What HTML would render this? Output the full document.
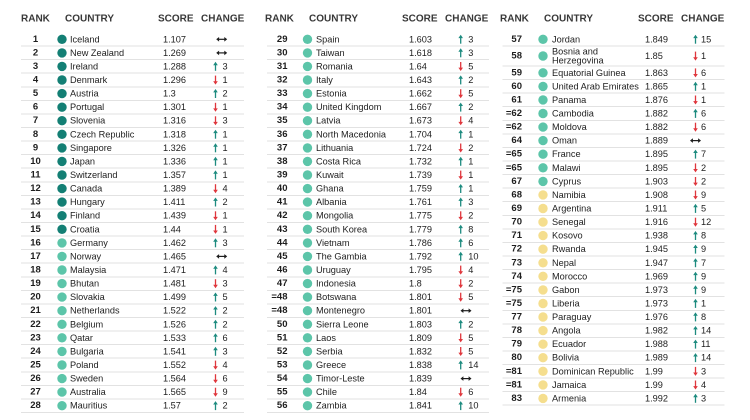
<!DOCTYPE html>
<html><head><meta charset="utf-8">
<style>
html,body{margin:0;padding:0;background:#fff;}
svg{display:block;}
text{font-family:"Liberation Sans",Arial,sans-serif;dominant-baseline:central;fill:#1e1e1e;}
.h{font-size:10px;font-weight:bold;fill:#383838;}
.r{font-size:9.5px;font-weight:bold;text-anchor:middle;}
.re{font-size:9.5px;font-weight:bold;text-anchor:end;}
.c{font-size:9.2px;}
.s{font-size:9.2px;}
.l{stroke:#e2e2e2;stroke-width:1;shape-rendering:crispEdges;}
.d1{fill:#137f74;}
.d2{fill:#5cc5a9;}
.d3{fill:#f5de8e;}
</style></head><body>
<svg width="750" height="420" viewBox="0 0 750 420" xmlns="http://www.w3.org/2000/svg">
<defs>
<g id="up"><line x1="0" y1="4.4" x2="0" y2="-1.8" stroke="#1d8b7f" stroke-width="1.3"/><path d="M-2.3,-1.2 L2.3,-1.2 L0,-4.6Z" fill="#1d8b7f"/></g>
<g id="dn"><line x1="0" y1="-4.4" x2="0" y2="1.8" stroke="#df363c" stroke-width="1.3"/><path d="M-2.3,1.2 L2.3,1.2 L0,4.6Z" fill="#df363c"/></g>
<g id="lr"><line x1="-3.5" x2="3.5" y1="0" y2="0" stroke="#1e1e1e" stroke-width="1.2"/><path d="M-5.5,0 L-2.6,-2.3 L-2.6,2.3Z M5.5,0 L2.6,-2.3 L2.6,2.3Z" fill="#1e1e1e"/></g>
</defs>

<!-- headers -->
<text class="h" x="21" y="19">RANK</text><text class="h" x="65" y="19">COUNTRY</text><text class="h" x="158" y="19">SCORE</text><text class="h" x="201" y="19">CHANGE</text>
<text class="h" x="265" y="19">RANK</text><text class="h" x="309" y="19">COUNTRY</text><text class="h" x="402" y="19">SCORE</text><text class="h" x="445" y="19">CHANGE</text>
<text class="h" x="500" y="19">RANK</text><text class="h" x="544" y="19">COUNTRY</text><text class="h" x="638" y="19">SCORE</text><text class="h" x="681" y="19">CHANGE</text>

<!-- column 1 -->
<g>
<g transform="translate(0,39.3)"><text class="r" x="35.5">1</text><circle class="d1" cx="62" r="4.7"/><text class="c" x="70">Iceland</text><text class="s" x="163">1.107</text><use href="#lr" x="221.7"/><line class="l" x1="21" x2="244" y1="6.8" y2="6.8"/></g>
<g transform="translate(0,52.9)"><text class="r" x="35.5">2</text><circle class="d1" cx="62" r="4.7"/><text class="c" x="70">New Zealand</text><text class="s" x="163">1.269</text><use href="#lr" x="221.7"/><line class="l" x1="21" x2="244" y1="6.8" y2="6.8"/></g>
<g transform="translate(0,66.4)"><text class="r" x="35.5">3</text><circle class="d1" cx="62" r="4.7"/><text class="c" x="70">Ireland</text><text class="s" x="163">1.288</text><use href="#up" x="215.5"/><text class="c" x="222.5">3</text><line class="l" x1="21" x2="244" y1="6.8" y2="6.8"/></g>
<g transform="translate(0,80)"><text class="r" x="35.5">4</text><circle class="d1" cx="62" r="4.7"/><text class="c" x="70">Denmark</text><text class="s" x="163">1.296</text><use href="#dn" x="215.5"/><text class="c" x="222.5">1</text><line class="l" x1="21" x2="244" y1="6.8" y2="6.8"/></g>
<g transform="translate(0,93.6)"><text class="r" x="35.5">5</text><circle class="d1" cx="62" r="4.7"/><text class="c" x="70">Austria</text><text class="s" x="163">1.3</text><use href="#up" x="215.5"/><text class="c" x="222.5">2</text><line class="l" x1="21" x2="244" y1="6.8" y2="6.8"/></g>
<g transform="translate(0,107.2)"><text class="r" x="35.5">6</text><circle class="d1" cx="62" r="4.7"/><text class="c" x="70">Portugal</text><text class="s" x="163">1.301</text><use href="#dn" x="215.5"/><text class="c" x="222.5">1</text><line class="l" x1="21" x2="244" y1="6.8" y2="6.8"/></g>
<g transform="translate(0,120.7)"><text class="r" x="35.5">7</text><circle class="d1" cx="62" r="4.7"/><text class="c" x="70">Slovenia</text><text class="s" x="163">1.316</text><use href="#dn" x="215.5"/><text class="c" x="222.5">3</text><line class="l" x1="21" x2="244" y1="6.8" y2="6.8"/></g>
<g transform="translate(0,134.3)"><text class="r" x="35.5">8</text><circle class="d1" cx="62" r="4.7"/><text class="c" x="70">Czech Republic</text><text class="s" x="163">1.318</text><use href="#up" x="215.5"/><text class="c" x="222.5">1</text><line class="l" x1="21" x2="244" y1="6.8" y2="6.8"/></g>
<g transform="translate(0,147.9)"><text class="r" x="35.5">9</text><circle class="d1" cx="62" r="4.7"/><text class="c" x="70">Singapore</text><text class="s" x="163">1.326</text><use href="#up" x="215.5"/><text class="c" x="222.5">1</text><line class="l" x1="21" x2="244" y1="6.8" y2="6.8"/></g>
<g transform="translate(0,161.4)"><text class="r" x="35.5">10</text><circle class="d1" cx="62" r="4.7"/><text class="c" x="70">Japan</text><text class="s" x="163">1.336</text><use href="#up" x="215.5"/><text class="c" x="222.5">1</text><line class="l" x1="21" x2="244" y1="6.8" y2="6.8"/></g>
<g transform="translate(0,175)"><text class="r" x="35.5">11</text><circle class="d1" cx="62" r="4.7"/><text class="c" x="70">Switzerland</text><text class="s" x="163">1.357</text><use href="#up" x="215.5"/><text class="c" x="222.5">1</text><line class="l" x1="21" x2="244" y1="6.8" y2="6.8"/></g>
<g transform="translate(0,188.6)"><text class="r" x="35.5">12</text><circle class="d1" cx="62" r="4.7"/><text class="c" x="70">Canada</text><text class="s" x="163">1.389</text><use href="#dn" x="215.5"/><text class="c" x="222.5">4</text><line class="l" x1="21" x2="244" y1="6.8" y2="6.8"/></g>
<g transform="translate(0,202.1)"><text class="r" x="35.5">13</text><circle class="d1" cx="62" r="4.7"/><text class="c" x="70">Hungary</text><text class="s" x="163">1.411</text><use href="#up" x="215.5"/><text class="c" x="222.5">2</text><line class="l" x1="21" x2="244" y1="6.8" y2="6.8"/></g>
<g transform="translate(0,215.7)"><text class="r" x="35.5">14</text><circle class="d1" cx="62" r="4.7"/><text class="c" x="70">Finland</text><text class="s" x="163">1.439</text><use href="#dn" x="215.5"/><text class="c" x="222.5">1</text><line class="l" x1="21" x2="244" y1="6.8" y2="6.8"/></g>
<g transform="translate(0,229.3)"><text class="r" x="35.5">15</text><circle class="d1" cx="62" r="4.7"/><text class="c" x="70">Croatia</text><text class="s" x="163">1.44</text><use href="#dn" x="215.5"/><text class="c" x="222.5">1</text><line class="l" x1="21" x2="244" y1="6.8" y2="6.8"/></g>
<g transform="translate(0,242.9)"><text class="r" x="35.5">16</text><circle class="d2" cx="62" r="4.7"/><text class="c" x="70">Germany</text><text class="s" x="163">1.462</text><use href="#up" x="215.5"/><text class="c" x="222.5">3</text><line class="l" x1="21" x2="244" y1="6.8" y2="6.8"/></g>
<g transform="translate(0,256.4)"><text class="r" x="35.5">17</text><circle class="d2" cx="62" r="4.7"/><text class="c" x="70">Norway</text><text class="s" x="163">1.465</text><use href="#lr" x="221.7"/><line class="l" x1="21" x2="244" y1="6.8" y2="6.8"/></g>
<g transform="translate(0,270)"><text class="r" x="35.5">18</text><circle class="d2" cx="62" r="4.7"/><text class="c" x="70">Malaysia</text><text class="s" x="163">1.471</text><use href="#up" x="215.5"/><text class="c" x="222.5">4</text><line class="l" x1="21" x2="244" y1="6.8" y2="6.8"/></g>
<g transform="translate(0,283.6)"><text class="r" x="35.5">19</text><circle class="d2" cx="62" r="4.7"/><text class="c" x="70">Bhutan</text><text class="s" x="163">1.481</text><use href="#dn" x="215.5"/><text class="c" x="222.5">3</text><line class="l" x1="21" x2="244" y1="6.8" y2="6.8"/></g>
<g transform="translate(0,297.1)"><text class="r" x="35.5">20</text><circle class="d2" cx="62" r="4.7"/><text class="c" x="70">Slovakia</text><text class="s" x="163">1.499</text><use href="#up" x="215.5"/><text class="c" x="222.5">5</text><line class="l" x1="21" x2="244" y1="6.8" y2="6.8"/></g>
<g transform="translate(0,310.7)"><text class="r" x="35.5">21</text><circle class="d2" cx="62" r="4.7"/><text class="c" x="70">Netherlands</text><text class="s" x="163">1.522</text><use href="#up" x="215.5"/><text class="c" x="222.5">2</text><line class="l" x1="21" x2="244" y1="6.8" y2="6.8"/></g>
<g transform="translate(0,324.3)"><text class="r" x="35.5">22</text><circle class="d2" cx="62" r="4.7"/><text class="c" x="70">Belgium</text><text class="s" x="163">1.526</text><use href="#up" x="215.5"/><text class="c" x="222.5">2</text><line class="l" x1="21" x2="244" y1="6.8" y2="6.8"/></g>
<g transform="translate(0,337.8)"><text class="r" x="35.5">23</text><circle class="d2" cx="62" r="4.7"/><text class="c" x="70">Qatar</text><text class="s" x="163">1.533</text><use href="#up" x="215.5"/><text class="c" x="222.5">6</text><line class="l" x1="21" x2="244" y1="6.8" y2="6.8"/></g>
<g transform="translate(0,351.4)"><text class="r" x="35.5">24</text><circle class="d2" cx="62" r="4.7"/><text class="c" x="70">Bulgaria</text><text class="s" x="163">1.541</text><use href="#up" x="215.5"/><text class="c" x="222.5">3</text><line class="l" x1="21" x2="244" y1="6.8" y2="6.8"/></g>
<g transform="translate(0,365)"><text class="r" x="35.5">25</text><circle class="d2" cx="62" r="4.7"/><text class="c" x="70">Poland</text><text class="s" x="163">1.552</text><use href="#dn" x="215.5"/><text class="c" x="222.5">4</text><line class="l" x1="21" x2="244" y1="6.8" y2="6.8"/></g>
<g transform="translate(0,378.6)"><text class="r" x="35.5">26</text><circle class="d2" cx="62" r="4.7"/><text class="c" x="70">Sweden</text><text class="s" x="163">1.564</text><use href="#dn" x="215.5"/><text class="c" x="222.5">6</text><line class="l" x1="21" x2="244" y1="6.8" y2="6.8"/></g>
<g transform="translate(0,392.1)"><text class="r" x="35.5">27</text><circle class="d2" cx="62" r="4.7"/><text class="c" x="70">Australia</text><text class="s" x="163">1.565</text><use href="#dn" x="215.5"/><text class="c" x="222.5">9</text><line class="l" x1="21" x2="244" y1="6.8" y2="6.8"/></g>
<g transform="translate(0,405.7)"><text class="r" x="35.5">28</text><circle class="d2" cx="62" r="4.7"/><text class="c" x="70">Mauritius</text><text class="s" x="163">1.57</text><use href="#up" x="215.5"/><text class="c" x="222.5">2</text><line class="l" x1="21" x2="244" y1="6.8" y2="6.8"/></g>
</g>

<!-- column 2 -->
<g transform="translate(245.5,0)">
<g transform="translate(0,39.3)"><text class="re" x="42">29</text><circle class="d2" cx="62" r="4.7"/><text class="c" x="70.5">Spain</text><text class="s" x="163.5">1.603</text><use href="#up" x="215.2"/><text class="c" x="222.8">3</text><line class="l" x1="21.5" x2="243.5" y1="6.8" y2="6.8"/></g>
<g transform="translate(0,52.9)"><text class="re" x="42">30</text><circle class="d2" cx="62" r="4.7"/><text class="c" x="70.5">Taiwan</text><text class="s" x="163.5">1.618</text><use href="#up" x="215.2"/><text class="c" x="222.8">3</text><line class="l" x1="21.5" x2="243.5" y1="6.8" y2="6.8"/></g>
<g transform="translate(0,66.4)"><text class="re" x="42">31</text><circle class="d2" cx="62" r="4.7"/><text class="c" x="70.5">Romania</text><text class="s" x="163.5">1.64</text><use href="#dn" x="215.2"/><text class="c" x="222.8">5</text><line class="l" x1="21.5" x2="243.5" y1="6.8" y2="6.8"/></g>
<g transform="translate(0,80)"><text class="re" x="42">32</text><circle class="d2" cx="62" r="4.7"/><text class="c" x="70.5">Italy</text><text class="s" x="163.5">1.643</text><use href="#up" x="215.2"/><text class="c" x="222.8">2</text><line class="l" x1="21.5" x2="243.5" y1="6.8" y2="6.8"/></g>
<g transform="translate(0,93.6)"><text class="re" x="42">33</text><circle class="d2" cx="62" r="4.7"/><text class="c" x="70.5">Estonia</text><text class="s" x="163.5">1.662</text><use href="#dn" x="215.2"/><text class="c" x="222.8">5</text><line class="l" x1="21.5" x2="243.5" y1="6.8" y2="6.8"/></g>
<g transform="translate(0,107.2)"><text class="re" x="42">34</text><circle class="d2" cx="62" r="4.7"/><text class="c" x="70.5">United Kingdom</text><text class="s" x="163.5">1.667</text><use href="#up" x="215.2"/><text class="c" x="222.8">2</text><line class="l" x1="21.5" x2="243.5" y1="6.8" y2="6.8"/></g>
<g transform="translate(0,120.7)"><text class="re" x="42">35</text><circle class="d2" cx="62" r="4.7"/><text class="c" x="70.5">Latvia</text><text class="s" x="163.5">1.673</text><use href="#dn" x="215.2"/><text class="c" x="222.8">4</text><line class="l" x1="21.5" x2="243.5" y1="6.8" y2="6.8"/></g>
<g transform="translate(0,134.3)"><text class="re" x="42">36</text><circle class="d2" cx="62" r="4.7"/><text class="c" x="70.5">North Macedonia</text><text class="s" x="163.5">1.704</text><use href="#up" x="215.2"/><text class="c" x="222.8">1</text><line class="l" x1="21.5" x2="243.5" y1="6.8" y2="6.8"/></g>
<g transform="translate(0,147.9)"><text class="re" x="42">37</text><circle class="d2" cx="62" r="4.7"/><text class="c" x="70.5">Lithuania</text><text class="s" x="163.5">1.724</text><use href="#dn" x="215.2"/><text class="c" x="222.8">2</text><line class="l" x1="21.5" x2="243.5" y1="6.8" y2="6.8"/></g>
<g transform="translate(0,161.4)"><text class="re" x="42">38</text><circle class="d2" cx="62" r="4.7"/><text class="c" x="70.5">Costa Rica</text><text class="s" x="163.5">1.732</text><use href="#up" x="215.2"/><text class="c" x="222.8">1</text><line class="l" x1="21.5" x2="243.5" y1="6.8" y2="6.8"/></g>
<g transform="translate(0,175)"><text class="re" x="42">39</text><circle class="d2" cx="62" r="4.7"/><text class="c" x="70.5">Kuwait</text><text class="s" x="163.5">1.739</text><use href="#dn" x="215.2"/><text class="c" x="222.8">1</text><line class="l" x1="21.5" x2="243.5" y1="6.8" y2="6.8"/></g>
<g transform="translate(0,188.6)"><text class="re" x="42">40</text><circle class="d2" cx="62" r="4.7"/><text class="c" x="70.5">Ghana</text><text class="s" x="163.5">1.759</text><use href="#up" x="215.2"/><text class="c" x="222.8">1</text><line class="l" x1="21.5" x2="243.5" y1="6.8" y2="6.8"/></g>
<g transform="translate(0,202.1)"><text class="re" x="42">41</text><circle class="d2" cx="62" r="4.7"/><text class="c" x="70.5">Albania</text><text class="s" x="163.5">1.761</text><use href="#up" x="215.2"/><text class="c" x="222.8">3</text><line class="l" x1="21.5" x2="243.5" y1="6.8" y2="6.8"/></g>
<g transform="translate(0,215.7)"><text class="re" x="42">42</text><circle class="d2" cx="62" r="4.7"/><text class="c" x="70.5">Mongolia</text><text class="s" x="163.5">1.775</text><use href="#dn" x="215.2"/><text class="c" x="222.8">2</text><line class="l" x1="21.5" x2="243.5" y1="6.8" y2="6.8"/></g>
<g transform="translate(0,229.3)"><text class="re" x="42">43</text><circle class="d2" cx="62" r="4.7"/><text class="c" x="70.5">South Korea</text><text class="s" x="163.5">1.779</text><use href="#up" x="215.2"/><text class="c" x="222.8">8</text><line class="l" x1="21.5" x2="243.5" y1="6.8" y2="6.8"/></g>
<g transform="translate(0,242.9)"><text class="re" x="42">44</text><circle class="d2" cx="62" r="4.7"/><text class="c" x="70.5">Vietnam</text><text class="s" x="163.5">1.786</text><use href="#up" x="215.2"/><text class="c" x="222.8">6</text><line class="l" x1="21.5" x2="243.5" y1="6.8" y2="6.8"/></g>
<g transform="translate(0,256.4)"><text class="re" x="42">45</text><circle class="d2" cx="62" r="4.7"/><text class="c" x="70.5">The Gambia</text><text class="s" x="163.5">1.792</text><use href="#up" x="215.2"/><text class="c" x="222.8">10</text><line class="l" x1="21.5" x2="243.5" y1="6.8" y2="6.8"/></g>
<g transform="translate(0,270)"><text class="re" x="42">46</text><circle class="d2" cx="62" r="4.7"/><text class="c" x="70.5">Uruguay</text><text class="s" x="163.5">1.795</text><use href="#dn" x="215.2"/><text class="c" x="222.8">4</text><line class="l" x1="21.5" x2="243.5" y1="6.8" y2="6.8"/></g>
<g transform="translate(0,283.6)"><text class="re" x="42">47</text><circle class="d2" cx="62" r="4.7"/><text class="c" x="70.5">Indonesia</text><text class="s" x="163.5">1.8</text><use href="#dn" x="215.2"/><text class="c" x="222.8">2</text><line class="l" x1="21.5" x2="243.5" y1="6.8" y2="6.8"/></g>
<g transform="translate(0,297.1)"><text class="re" x="42">=48</text><circle class="d2" cx="62" r="4.7"/><text class="c" x="70.5">Botswana</text><text class="s" x="163.5">1.801</text><use href="#dn" x="215.2"/><text class="c" x="222.8">5</text><line class="l" x1="21.5" x2="243.5" y1="6.8" y2="6.8"/></g>
<g transform="translate(0,310.7)"><text class="re" x="42">=48</text><circle class="d2" cx="62" r="4.7"/><text class="c" x="70.5">Montenegro</text><text class="s" x="163.5">1.801</text><use href="#lr" x="220.5"/><line class="l" x1="21.5" x2="243.5" y1="6.8" y2="6.8"/></g>
<g transform="translate(0,324.3)"><text class="re" x="42">50</text><circle class="d2" cx="62" r="4.7"/><text class="c" x="70.5">Sierra Leone</text><text class="s" x="163.5">1.803</text><use href="#up" x="215.2"/><text class="c" x="222.8">2</text><line class="l" x1="21.5" x2="243.5" y1="6.8" y2="6.8"/></g>
<g transform="translate(0,337.8)"><text class="re" x="42">51</text><circle class="d2" cx="62" r="4.7"/><text class="c" x="70.5">Laos</text><text class="s" x="163.5">1.809</text><use href="#dn" x="215.2"/><text class="c" x="222.8">5</text><line class="l" x1="21.5" x2="243.5" y1="6.8" y2="6.8"/></g>
<g transform="translate(0,351.4)"><text class="re" x="42">52</text><circle class="d2" cx="62" r="4.7"/><text class="c" x="70.5">Serbia</text><text class="s" x="163.5">1.832</text><use href="#dn" x="215.2"/><text class="c" x="222.8">5</text><line class="l" x1="21.5" x2="243.5" y1="6.8" y2="6.8"/></g>
<g transform="translate(0,365)"><text class="re" x="42">53</text><circle class="d2" cx="62" r="4.7"/><text class="c" x="70.5">Greece</text><text class="s" x="163.5">1.838</text><use href="#up" x="215.2"/><text class="c" x="222.8">14</text><line class="l" x1="21.5" x2="243.5" y1="6.8" y2="6.8"/></g>
<g transform="translate(0,378.6)"><text class="re" x="42">54</text><circle class="d2" cx="62" r="4.7"/><text class="c" x="70.5">Timor-Leste</text><text class="s" x="163.5">1.839</text><use href="#lr" x="220.5"/><line class="l" x1="21.5" x2="243.5" y1="6.8" y2="6.8"/></g>
<g transform="translate(0,392.1)"><text class="re" x="42">55</text><circle class="d2" cx="62" r="4.7"/><text class="c" x="70.5">Chile</text><text class="s" x="163.5">1.84</text><use href="#dn" x="215.2"/><text class="c" x="222.8">6</text><line class="l" x1="21.5" x2="243.5" y1="6.8" y2="6.8"/></g>
<g transform="translate(0,405.7)"><text class="re" x="42">56</text><circle class="d2" cx="62" r="4.7"/><text class="c" x="70.5">Zambia</text><text class="s" x="163.5">1.841</text><use href="#up" x="215.2"/><text class="c" x="222.8">10</text><line class="l" x1="21.5" x2="243.5" y1="6.8" y2="6.8"/></g>
</g>

<!-- column 3 -->
<g transform="translate(481.5,0)">
<g transform="translate(0,39.3)"><text class="re" x="40.5">57</text><circle class="d2" cx="61.5" r="4.7"/><text class="c" x="70.5">Jordan</text><text class="s" x="163.5">1.849</text><use href="#up" x="214"/><text class="c" x="219.5">15</text><line class="l" x1="21" x2="243" y1="6.6" y2="6.6"/></g>
<g transform="translate(0,56)"><text class="re" x="40.5">58</text><circle class="d2" cx="61.5" r="4.7"/><text class="c" x="70.5" y="-4.4">Bosnia and</text><text class="c" x="70.5" y="4.6">Herzegovina</text><text class="s" x="163.5">1.85</text><use href="#dn" x="214"/><text class="c" x="219.5">1</text><line class="l" x1="21" x2="243" y1="9.8" y2="9.8"/></g>
<g transform="translate(0,72.8)"><text class="re" x="40.5">59</text><circle class="d2" cx="61.5" r="4.7"/><text class="c" x="70.5">Equatorial Guinea</text><text class="s" x="163.5">1.863</text><use href="#dn" x="214"/><text class="c" x="219.5">6</text><line class="l" x1="21" x2="243" y1="6.8" y2="6.8"/></g>
<g transform="translate(0,86.4)"><text class="re" x="40.5">60</text><circle class="d2" cx="61.5" r="4.7"/><text class="c" x="70.5">United Arab Emirates</text><text class="s" x="163.5">1.865</text><use href="#up" x="214"/><text class="c" x="219.5">1</text><line class="l" x1="21" x2="243" y1="6.8" y2="6.8"/></g>
<g transform="translate(0,99.9)"><text class="re" x="40.5">61</text><circle class="d2" cx="61.5" r="4.7"/><text class="c" x="70.5">Panama</text><text class="s" x="163.5">1.876</text><use href="#dn" x="214"/><text class="c" x="219.5">1</text><line class="l" x1="21" x2="243" y1="6.8" y2="6.8"/></g>
<g transform="translate(0,113.5)"><text class="re" x="40.5">=62</text><circle class="d2" cx="61.5" r="4.7"/><text class="c" x="70.5">Cambodia</text><text class="s" x="163.5">1.882</text><use href="#up" x="214"/><text class="c" x="219.5">6</text><line class="l" x1="21" x2="243" y1="6.8" y2="6.8"/></g>
<g transform="translate(0,127.1)"><text class="re" x="40.5">=62</text><circle class="d2" cx="61.5" r="4.7"/><text class="c" x="70.5">Moldova</text><text class="s" x="163.5">1.882</text><use href="#dn" x="214"/><text class="c" x="219.5">6</text><line class="l" x1="21" x2="243" y1="6.8" y2="6.8"/></g>
<g transform="translate(0,140.6)"><text class="re" x="40.5">64</text><circle class="d2" cx="61.5" r="4.7"/><text class="c" x="70.5">Oman</text><text class="s" x="163.5">1.889</text><use href="#lr" x="214"/><line class="l" x1="21" x2="243" y1="6.8" y2="6.8"/></g>
<g transform="translate(0,154.2)"><text class="re" x="40.5">=65</text><circle class="d2" cx="61.5" r="4.7"/><text class="c" x="70.5">France</text><text class="s" x="163.5">1.895</text><use href="#up" x="214"/><text class="c" x="219.5">7</text><line class="l" x1="21" x2="243" y1="6.8" y2="6.8"/></g>
<g transform="translate(0,167.8)"><text class="re" x="40.5">=65</text><circle class="d2" cx="61.5" r="4.7"/><text class="c" x="70.5">Malawi</text><text class="s" x="163.5">1.895</text><use href="#dn" x="214"/><text class="c" x="219.5">2</text><line class="l" x1="21" x2="243" y1="6.8" y2="6.8"/></g>
<g transform="translate(0,181.4)"><text class="re" x="40.5">67</text><circle class="d2" cx="61.5" r="4.7"/><text class="c" x="70.5">Cyprus</text><text class="s" x="163.5">1.903</text><use href="#dn" x="214"/><text class="c" x="219.5">2</text><line class="l" x1="21" x2="243" y1="6.8" y2="6.8"/></g>
<g transform="translate(0,194.9)"><text class="re" x="40.5">68</text><circle class="d3" cx="61.5" r="4.7"/><text class="c" x="70.5">Namibia</text><text class="s" x="163.5">1.908</text><use href="#dn" x="214"/><text class="c" x="219.5">9</text><line class="l" x1="21" x2="243" y1="6.8" y2="6.8"/></g>
<g transform="translate(0,208.5)"><text class="re" x="40.5">69</text><circle class="d3" cx="61.5" r="4.7"/><text class="c" x="70.5">Argentina</text><text class="s" x="163.5">1.911</text><use href="#up" x="214"/><text class="c" x="219.5">5</text><line class="l" x1="21" x2="243" y1="6.8" y2="6.8"/></g>
<g transform="translate(0,222.1)"><text class="re" x="40.5">70</text><circle class="d3" cx="61.5" r="4.7"/><text class="c" x="70.5">Senegal</text><text class="s" x="163.5">1.916</text><use href="#dn" x="214"/><text class="c" x="219.5">12</text><line class="l" x1="21" x2="243" y1="6.8" y2="6.8"/></g>
<g transform="translate(0,235.6)"><text class="re" x="40.5">71</text><circle class="d3" cx="61.5" r="4.7"/><text class="c" x="70.5">Kosovo</text><text class="s" x="163.5">1.938</text><use href="#up" x="214"/><text class="c" x="219.5">8</text><line class="l" x1="21" x2="243" y1="6.8" y2="6.8"/></g>
<g transform="translate(0,249.2)"><text class="re" x="40.5">72</text><circle class="d3" cx="61.5" r="4.7"/><text class="c" x="70.5">Rwanda</text><text class="s" x="163.5">1.945</text><use href="#up" x="214"/><text class="c" x="219.5">9</text><line class="l" x1="21" x2="243" y1="6.8" y2="6.8"/></g>
<g transform="translate(0,262.8)"><text class="re" x="40.5">73</text><circle class="d3" cx="61.5" r="4.7"/><text class="c" x="70.5">Nepal</text><text class="s" x="163.5">1.947</text><use href="#up" x="214"/><text class="c" x="219.5">7</text><line class="l" x1="21" x2="243" y1="6.8" y2="6.8"/></g>
<g transform="translate(0,276.3)"><text class="re" x="40.5">74</text><circle class="d3" cx="61.5" r="4.7"/><text class="c" x="70.5">Morocco</text><text class="s" x="163.5">1.969</text><use href="#up" x="214"/><text class="c" x="219.5">9</text><line class="l" x1="21" x2="243" y1="6.8" y2="6.8"/></g>
<g transform="translate(0,289.9)"><text class="re" x="40.5">=75</text><circle class="d3" cx="61.5" r="4.7"/><text class="c" x="70.5">Gabon</text><text class="s" x="163.5">1.973</text><use href="#up" x="214"/><text class="c" x="219.5">9</text><line class="l" x1="21" x2="243" y1="6.8" y2="6.8"/></g>
<g transform="translate(0,303.5)"><text class="re" x="40.5">=75</text><circle class="d3" cx="61.5" r="4.7"/><text class="c" x="70.5">Liberia</text><text class="s" x="163.5">1.973</text><use href="#up" x="214"/><text class="c" x="219.5">1</text><line class="l" x1="21" x2="243" y1="6.8" y2="6.8"/></g>
<g transform="translate(0,317)"><text class="re" x="40.5">77</text><circle class="d3" cx="61.5" r="4.7"/><text class="c" x="70.5">Paraguay</text><text class="s" x="163.5">1.976</text><use href="#up" x="214"/><text class="c" x="219.5">8</text><line class="l" x1="21" x2="243" y1="6.8" y2="6.8"/></g>
<g transform="translate(0,330.6)"><text class="re" x="40.5">78</text><circle class="d3" cx="61.5" r="4.7"/><text class="c" x="70.5">Angola</text><text class="s" x="163.5">1.982</text><use href="#up" x="214"/><text class="c" x="219.5">14</text><line class="l" x1="21" x2="243" y1="6.8" y2="6.8"/></g>
<g transform="translate(0,344.2)"><text class="re" x="40.5">79</text><circle class="d3" cx="61.5" r="4.7"/><text class="c" x="70.5">Ecuador</text><text class="s" x="163.5">1.988</text><use href="#up" x="214"/><text class="c" x="219.5">11</text><line class="l" x1="21" x2="243" y1="6.8" y2="6.8"/></g>
<g transform="translate(0,357.7)"><text class="re" x="40.5">80</text><circle class="d3" cx="61.5" r="4.7"/><text class="c" x="70.5">Bolivia</text><text class="s" x="163.5">1.989</text><use href="#up" x="214"/><text class="c" x="219.5">14</text><line class="l" x1="21" x2="243" y1="6.8" y2="6.8"/></g>
<g transform="translate(0,371.3)"><text class="re" x="40.5">=81</text><circle class="d3" cx="61.5" r="4.7"/><text class="c" x="70.5">Dominican Republic</text><text class="s" x="163.5">1.99</text><use href="#dn" x="214"/><text class="c" x="219.5">3</text><line class="l" x1="21" x2="243" y1="6.8" y2="6.8"/></g>
<g transform="translate(0,384.9)"><text class="re" x="40.5">=81</text><circle class="d3" cx="61.5" r="4.7"/><text class="c" x="70.5">Jamaica</text><text class="s" x="163.5">1.99</text><use href="#dn" x="214"/><text class="c" x="219.5">4</text><line class="l" x1="21" x2="243" y1="6.8" y2="6.8"/></g>
<g transform="translate(0,398.4)"><text class="re" x="40.5">83</text><circle class="d3" cx="61.5" r="4.7"/><text class="c" x="70.5">Armenia</text><text class="s" x="163.5">1.992</text><use href="#up" x="214"/><text class="c" x="219.5">3</text><line class="l" x1="21" x2="243" y1="6.8" y2="6.8"/></g>
</g>
</svg>
</body></html>
